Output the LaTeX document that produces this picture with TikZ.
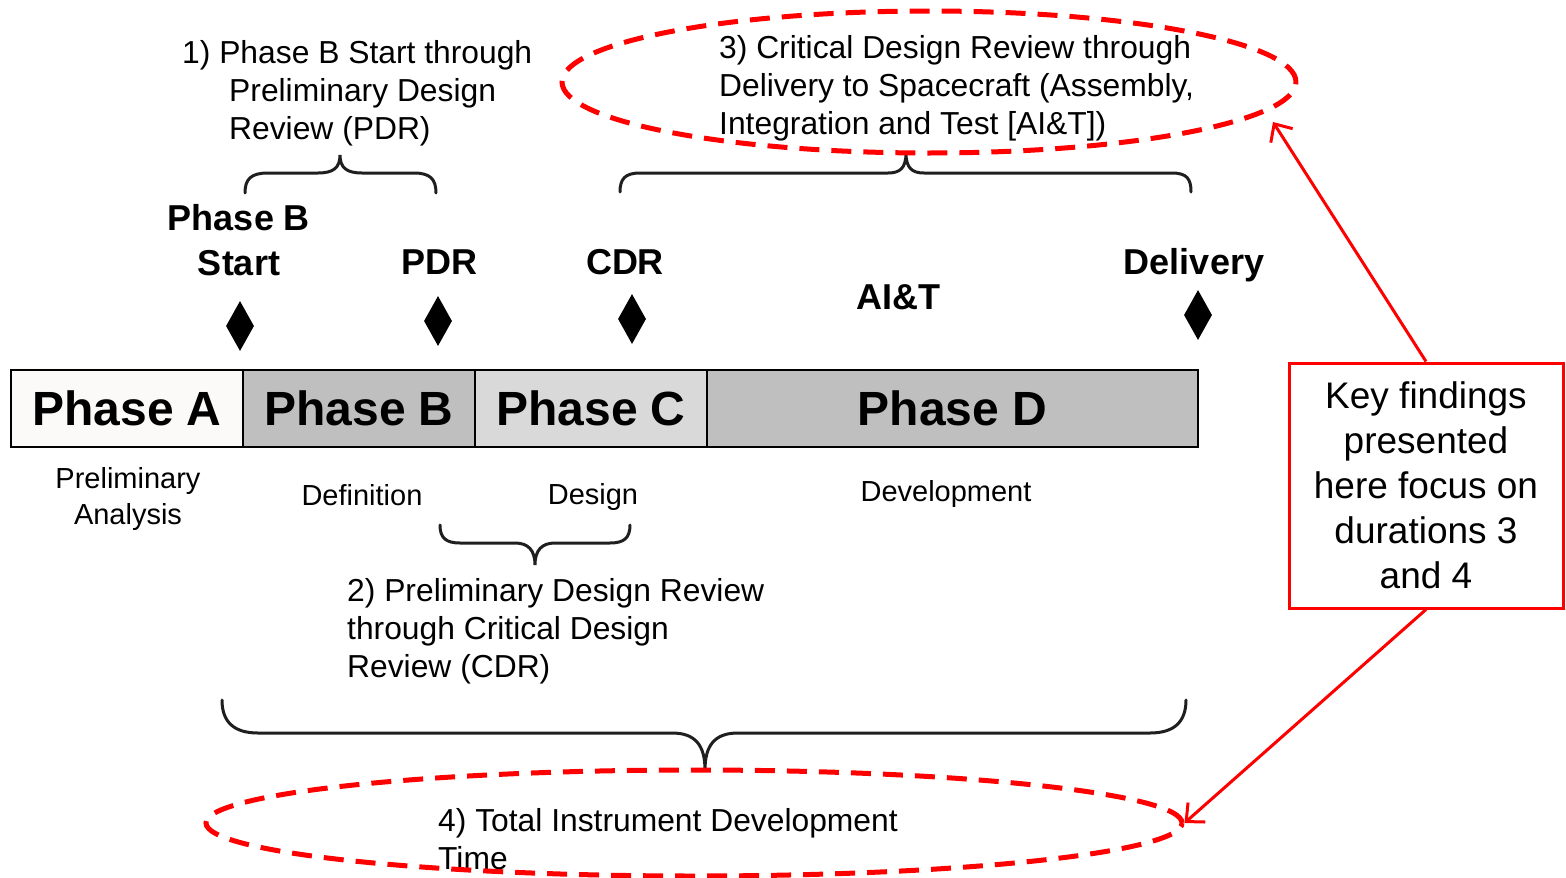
\documentclass[tikz,border=0pt]{standalone}
\usepackage{fontspec}
\setmainfont{Liberation Sans}
\usetikzlibrary{arrows.meta,shapes.geometric}
\definecolor{phgrayB}{HTML}{BFBFBF}
\definecolor{phgrayC}{HTML}{D9D9D9}
\definecolor{phwhite}{HTML}{FBFAF9}
\definecolor{keyred}{HTML}{FF0000}
\begin{document}
\begin{tikzpicture}[x=1pt,y=-1pt,
  phasebox/.style={draw=black, line width=2pt, minimum height=77pt, inner sep=0pt,
    font=\fontsize{48}{50}\selectfont\bfseries},
  msbold/.style={font=\fontsize{36}{45}\selectfont\bfseries, inner sep=0pt, align=center},
  lbl/.style={font=\fontsize{31.8}{38}\selectfont, inner sep=0pt, align=left},
  smalllbl/.style={font=\fontsize{29}{36}\selectfont, inner sep=0pt, align=center},
  mile/.style={diamond, fill=black, minimum width=28pt, minimum height=50pt, inner sep=0pt},
  brace/.style={line width=3pt, draw=black!88, line cap=round},
  redell/.style={ellipse, draw=keyred, line width=5pt, dash pattern=on 20pt off 12pt, inner sep=0pt},
  redarrow/.style={draw=keyred, line width=3pt, -{Straight Barb[length=14pt,width=26pt]}},
]
\useasboundingbox (0,0) rectangle (1566,878);

% phase bar
\node[phasebox, fill=phwhite, minimum width=232pt] (pa) at (127,408.5) {Phase A};
\node[phasebox, fill=phgrayB, minimum width=232pt] (pb) at (359,408.5) {Phase B};
\node[phasebox, fill=phgrayC, minimum width=232pt] (pc) at (591,408.5) {Phase C};
\node[phasebox, fill=phgrayB, minimum width=491pt] (pd) at (952.5,408.5) {Phase D};

% sub labels
\node[smalllbl] (la) at (128,499) {Preliminary\\Analysis};
\node[smalllbl] (lb) at (362,495) {Definition};
\node[smalllbl] (lc) at (593,497) {Design};
\node[smalllbl] (ld) at (946,494) {Development};

% milestones
\node[msbold] (mbs) at (239,240) {Phase B\\Start};
\node[msbold] (mpdr) at (439,262) {PDR};
\node[msbold] (mcdr) at (625,262) {CDR};
\node[msbold] (mdel) at (1194,265) {Delivery};
\node[msbold] (mait) at (898,297) {AI\&T};

\node[mile] (d1) at (240,326) {};
\node[mile] (d2) at (438,321) {};
\node[mile] (d3) at (632,319) {};
\node[mile] (d4) at (1198,315) {};

% braces
\draw[brace] (245,193) .. controls (245,179) and (251,173) .. (268,173) -- (318,173)
  .. controls (333,173) and (340,168) .. (340,155)
  .. controls (340,168) and (347,173) .. (362,173) -- (414,173)
  .. controls (430,173) and (436,179) .. (436,193);
\draw[brace] (620,192) .. controls (620,179) and (625,173) .. (640,173) -- (888,173)
  .. controls (900,173) and (906,168) .. (906,153)
  .. controls (906,168) and (912,173) .. (924,173) -- (1172,173)
  .. controls (1187,173) and (1191,179) .. (1191,192);
\draw[brace] (440,525) .. controls (440,538) and (446,543) .. (460,543) -- (515,543)
  .. controls (528,543) and (535,550) .. (535,565)
  .. controls (535,550) and (542,543) .. (555,543) -- (610,543)
  .. controls (624,543) and (630,538) .. (630,525);
\draw[brace] (222,700) .. controls (222,722) and (234,733) .. (258,733) -- (672,733)
  .. controls (695,733) and (705,745) .. (705,770)
  .. controls (705,745) and (715,733) .. (738,733) -- (1150,733)
  .. controls (1174,733) and (1186,722) .. (1186,700);

% duration texts
\node[lbl, anchor=west] (t1) at (229,93) {\hspace*{-47pt}1) Phase B Start through\\Preliminary Design\\Review (PDR)};
\node[lbl, anchor=west] (t2) at (347,631) {2) Preliminary Design Review\\through Critical Design\\Review (CDR)};
\node[lbl, anchor=west] (t3) at (719,88) {3) Critical Design Review through\\Delivery to Spacecraft (Assembly,\\Integration and Test [AI\&T])};
\node[lbl, anchor=west] (t4) at (438,839) {4) Total Instrument Development\\Time};

% red ellipses
\node[redell, minimum width=734pt, minimum height=142pt] (e3) at (929,82) {};
\node[redell, minimum width=976pt, minimum height=106pt] (e4) at (694,823) {};
\coordinate (tip3) at (1273,122);

% key box
\node[draw=keyred, line width=3pt, minimum width=274pt, minimum height=245pt, inner sep=0pt,
  font=\fontsize{37}{45}\selectfont, align=center] (key) at (1426,485.5)
  {Key findings\\presented\\here focus on\\durations 3\\and 4};

\draw[redarrow] (key.north) -- (tip3);
\draw[redarrow] (key.south) -- (e4.east);
\end{tikzpicture}
\end{document}
